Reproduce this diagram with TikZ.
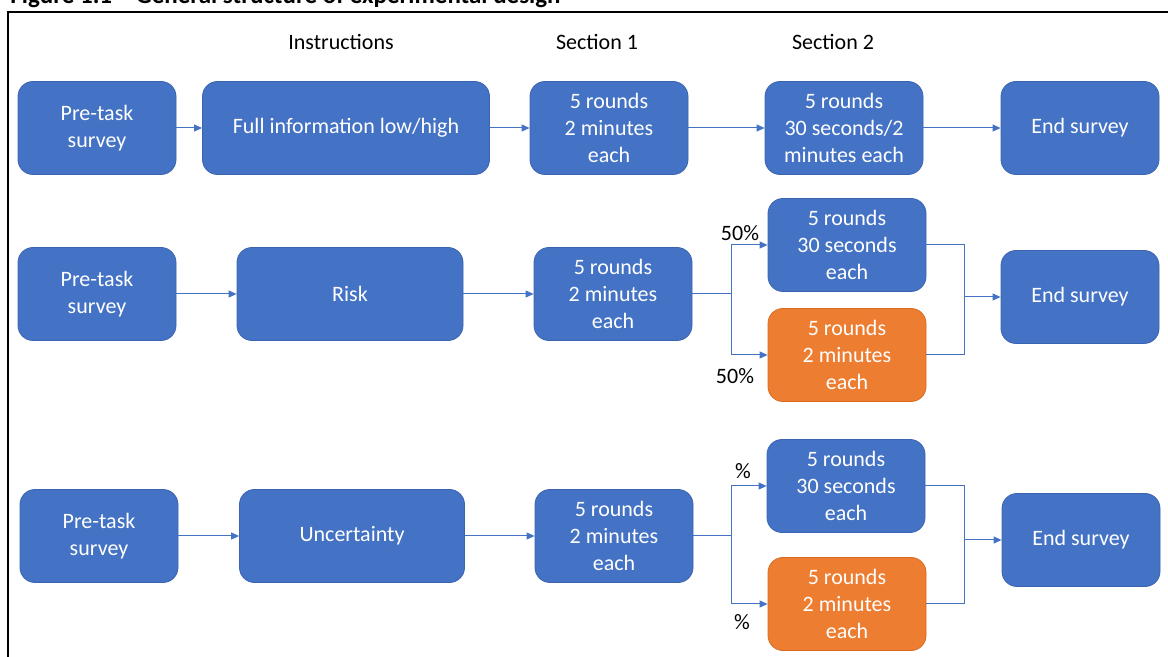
\documentclass[tikz,border=0pt]{standalone}
\usepackage{fontspec}
\setmainfont{Carlito}
\usepackage{xcolor}
\usetikzlibrary{positioning,arrows.meta,calc}

\definecolor{boxblue}{HTML}{4472C4}
\definecolor{blueedge}{HTML}{3A64B0}
\definecolor{boxorange}{HTML}{ED7D31}
\definecolor{orangeedge}{HTML}{D86A20}

\begin{document}
\begin{tikzpicture}[
  x=0.5pt, y=-0.5pt,
  font=\fontsize{11}{13.5}\selectfont,
  >={Triangle[length=4pt,width=3.5pt]},
  box/.style={draw=blueedge, fill=boxblue, text=white, rounded corners=7.5pt, minimum width=79pt, minimum height=46.5pt, align=center, inner sep=2pt},
  obox/.style={box, draw=orangeedge, fill=boxorange},
  flow/.style={->, draw=boxblue, line width=0.5pt},
  line/.style={draw=boxblue, line width=0.5pt},
]
\useasboundingbox (0,0) rectangle (1168,657);

% Caption (cut off at the top) and frame
\node[anchor=base west, inner sep=0pt, font=\fontsize{12.5}{15}\selectfont\bfseries] (title) at (10,4) {Figure 1.1 -- General structure of experimental design};
\draw[line width=1pt] (8,12) rectangle (1200,700);

% Column headers
\node (hins) at (341,42) {Instructions};
\node (hsec1) at (597,42) {Section 1};
\node (hsec2) at (833,42) {Section 2};

% Row 1: full information
\node[box] (pre1) at (97,128) {Pre-task\\survey};
\node[box, minimum width=143.5pt] (info) at (346,128) {Full information low/high};
\node[box] (seca) at (609,128) {5 rounds\\2 minutes\\each};
\node[box] (secb) at (844,128) {5 rounds\\30 seconds/2\\minutes each};
\node[box] (end1) at (1080,128) {End survey};

\draw[flow] (pre1) -- (info);
\draw[flow] (info) -- (seca);
\draw[flow] (seca) -- (secb);
\draw[flow] (secb) -- (end1);

% Row 2: risk
\node[box] (pre2) at (97,294) {Pre-task\\survey};
\node[box, minimum width=113pt] (risk) at (350,294) {Risk};
\node[box] (riska) at (613,294) {5 rounds\\2 minutes\\each};
\node[box] (riskfast) at (847,245) {5 rounds\\30 seconds\\each};
\node[obox] (riskslow) at (847,355) {5 rounds\\2 minutes\\each};
\node[box] (end2) at (1080,297) {End survey};
\coordinate (risksplit) at (731,294);
\coordinate (riskjoin) at (964,297);

\draw[flow] (pre2) -- (risk);
\draw[flow] (risk) -- (riska);
\draw[line] (riska) -- (risksplit);
\draw[flow] (risksplit) |- (riskfast);
\draw[flow] (risksplit) |- (riskslow);
\draw[line] (riskfast) -| (riskjoin);
\draw[line] (riskslow) -| (riskjoin);
\draw[flow] (riskjoin) -- (end2);

\node (riskp1) at (740,233) {50\%};
\node (riskp2) at (735,376) {50\%};

% Row 3: uncertainty
\node[box] (pre3) at (99,536) {Pre-task\\survey};
\node[box, minimum width=112.5pt] (unc) at (352,536) {Uncertainty};
\node[box] (unca) at (614,536) {5 rounds\\2 minutes\\each};
\node[box] (uncfast) at (846,486) {5 rounds\\30 seconds\\each};
\node[obox] (uncslow) at (847,604) {5 rounds\\2 minutes\\each};
\node[box] (end3) at (1081,540) {End survey};
\coordinate (uncsplit) at (731,536);
\coordinate (uncjoin) at (964,540);

\draw[flow] (pre3) -- (unc);
\draw[flow] (unc) -- (unca);
\draw[line] (unca) -- (uncsplit);
\draw[flow] (uncsplit) |- (uncfast);
\draw[flow] (uncsplit) |- (uncslow);
\draw[line] (uncfast) -| (uncjoin);
\draw[line] (uncslow) -| (uncjoin);
\draw[flow] (uncjoin) -- (end3);

\node (uncp1) at (743,471) {\%};
\node (uncp2) at (742,622) {\%};

\end{tikzpicture}
\end{document}
